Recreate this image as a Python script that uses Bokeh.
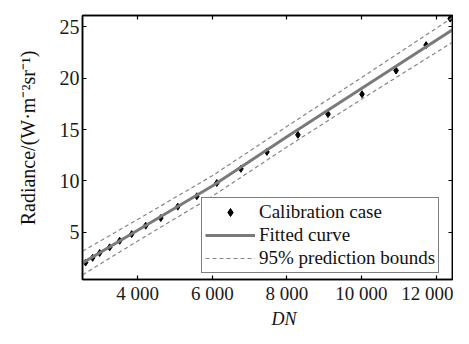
from bokeh.plotting import figure
from bokeh.models import Range1d, LinearAxis, FixedTicker, Legend, LegendItem, Title
from bokeh.embed import file_html
from bokeh.resources import INLINE

# ---- data ----
dn_cases = [2604, 2792, 2980, 3248, 3517, 3839, 4215, 4618, 5074, 5584,
            6121, 6766, 7464, 8296, 9102, 10014, 10927, 11733, 12377]
radiance_cases = [2.05, 2.51, 2.98, 3.53, 4.17, 4.82, 5.64, 6.38, 7.49, 8.50,
                  9.79, 11.17, 12.82, 14.48, 16.50, 18.44, 20.74, 23.22, 25.8]

fit_dn = [2520, 4000, 6000, 8000, 10000, 12440]
fit_radiance = [2.0, 5.2, 9.5, 14.3, 19.0, 24.7]
upper_bound = [3.15, 6.25, 10.5, 15.3, 20.05, 25.9]
lower_bound = [0.85, 4.15, 8.5, 13.3, 17.95, 23.5]

x_ticks = [4000, 6000, 8000, 10000, 12000]
x_tick_labels = ["4 000", "6 000", "8 000", "10 000", "12 000"]
y_ticks = [5, 10, 15, 20, 25]

FONT = "Liberation Serif"

p = figure(width=453, height=328,
           x_range=Range1d(2520, 12440), y_range=Range1d(0.4, 26.1),
           output_backend="svg", toolbar_location=None,
           min_border_left=82, min_border_right=1,
           min_border_top=15, min_border_bottom=36)
p.grid.visible = False
p.outline_line_color = "black"
p.outline_line_width = 1.5
p.background_fill_color = "white"
p.border_fill_color = "white"

def style_axis(ax, show_labels):
    ax.axis_line_color = "black"
    ax.axis_line_width = 1.5
    ax.major_tick_in = 4
    ax.major_tick_out = 0
    ax.major_tick_line_color = "black"
    ax.major_tick_line_width = 1.2
    ax.minor_tick_line_color = None
    ax.major_label_text_font = FONT
    if show_labels:
        ax.major_label_text_font_size = "20px"
        ax.major_label_text_color = "#1a1a1a"
    else:
        ax.major_label_text_font_size = "0px"
        ax.major_label_text_color = None
        ax.major_label_standoff = 0
        ax.axis_label_standoff = 0

p.xaxis.ticker = FixedTicker(ticks=x_ticks)
p.xaxis.major_label_overrides = {t: l for t, l in zip(x_ticks, x_tick_labels)}
p.yaxis.ticker = FixedTicker(ticks=y_ticks)
style_axis(p.xaxis[0], True)
style_axis(p.yaxis[0], True)
p.xaxis.major_label_text_font_size = "19px"
p.xaxis.major_label_standoff = 3
p.yaxis.major_label_standoff = 3

top_axis = LinearAxis(ticker=FixedTicker(ticks=x_ticks))
right_axis = LinearAxis(ticker=FixedTicker(ticks=y_ticks))
style_axis(top_axis, False)
style_axis(right_axis, False)
p.add_layout(top_axis, "above")
p.add_layout(right_axis, "right")

r_pts = p.scatter(dn_cases, radiance_cases, marker="diamond", size=7,
                  fill_color="black", line_color="black")
r_fit = p.line(fit_dn, fit_radiance, line_color="#7a7a7a", line_width=3)
r_up = p.line(fit_dn, upper_bound, line_color="#858585", line_width=1.2,
              line_dash="4 3")
r_lo = p.line(fit_dn, lower_bound, line_color="#858585", line_width=1.2,
              line_dash="4 3")

legend = Legend(items=[
    LegendItem(label="Calibration case", renderers=[r_pts]),
    LegendItem(label="Fitted curve", renderers=[r_fit]),
    LegendItem(label="95% prediction bounds", renderers=[r_up]),
], location=(119, 6))
legend.label_text_font = FONT
legend.label_text_font_size = "19px"
legend.label_text_color = "#111111"
legend.glyph_width = 50
legend.glyph_height = 20
legend.label_height = 20
legend.label_standoff = 4
legend.spacing = 1
legend.padding = 3
legend.margin = 0
legend.border_line_color = "black"
legend.border_line_width = 1.5
legend.background_fill_alpha = 1.0
p.add_layout(legend, "center")

xtitle = Title(text="DN", align="left", offset=189, standoff=0,
               text_font=FONT, text_font_size="18px", text_font_style="italic",
               text_color="#111111", text_line_height=0.6)
p.add_layout(xtitle, "below")

ytitle = Title(text="Radiance/(W\u00b7m\u207b\u00b2sr\u207b\u00b9)", align="right",
               offset=35, standoff=32, vertical_align="top",
               text_font=FONT, text_font_size="20px",
               text_font_style="normal", text_color="#111111")
p.add_layout(ytitle, "left")

open("out.html", "w").write(file_html(p, INLINE))
